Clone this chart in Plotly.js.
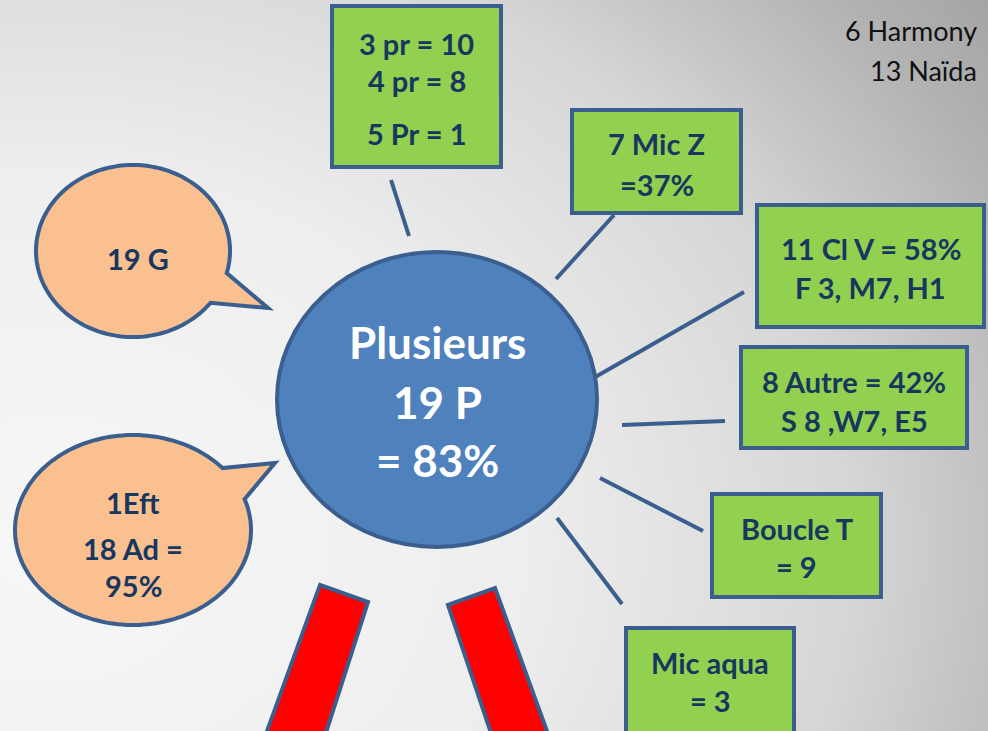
<!DOCTYPE html>
<html>
<head>
<meta charset="utf-8">
<script src="https://cdn.plot.ly/plotly-3.0.1.min.js"></script>
<style>
html,body{margin:0;padding:0;}
#chart{width:988px;height:731px;
 background: radial-gradient(ellipse 125% 135% at 5% 75%, #f7f7f7 0%, #eeeeee 38%, #d6d6d6 65%, #b2b2b2 85%, #9c9c9c 100%);}
</style>
</head>
<body>
<div id="chart"></div>
<script>
// ---- content ----
const centerLines = ["Plusieurs", "19 P", "= 83%"];
const boxLines = [
  ["3 pr = 10", "4 pr = 8", "5 Pr = 1"],
  ["7 Mic Z", "=37%"],
  ["11 Cl V = 58%", "F 3, M7, H1"],
  ["8 Autre = 42%", "S 8 ,W7, E5"],
  ["Boucle T", "= 9"],
  ["Mic aqua", "= 3"]
];
const bubbleLines = [
  ["19 G"],
  ["1Eft", "18 Ad =", "95%"]
];
const cornerLines = ["6 Harmony", "13 Naïda"];

// ---- layout geometry (pixels) ----
const NAVY = "#17375e", EDGE = "#3a5f8f";
const center = {x0: 277, x1: 597, y0: 252, y1: 547, ty: [342, 402, 460]};
const boxes = [
  {x0: 332, x1: 501, y0: 6,   y1: 167, ty: [43, 80, 133], conn: [391, 180, 409, 236]},
  {x0: 572, x1: 741, y0: 110, y1: 213, ty: [143, 184],    conn: [614, 215, 556, 279]},
  {x0: 757, x1: 984, y0: 205, y1: 327, ty: [248, 287],    conn: [744, 292, 590, 380]},
  {x0: 741, x1: 967, y0: 347, y1: 448, ty: [381, 420],    conn: [622, 425, 725, 421]},
  {x0: 712, x1: 881, y0: 494, y1: 597, ty: [528, 566],    conn: [600, 478, 703, 531]},
  {x0: 626, x1: 794, y0: 628, y1: 745, ty: [662, 700],    conn: [557, 518, 622, 604]}
];
const bubbles = [
  {cx: 133, cy: 251, rx: 97, ry: 86, a0: 37, a1: 374.9, tip: [268, 308], tx: 138, ty: [258]},
  {cx: 133, cy: 530, rx: 118, ry: 95, a0: -19, a1: 319.3, tip: [275, 463], tx: 133, ty: [502, 548, 585]}
];
const redBars = [
  [[320, 585], [368, 602], [322, 745], [262, 745]],
  [[448, 605], [495, 588], [552, 745], [495, 745]]
];

const shapes = [];
const ann = [];
const FONT = "Lato, 'Open Sans', sans-serif";

function txt(x, y, t, size, color, bold, xanchor) {
  ann.push({x: x, y: y, xref: "x", yref: "y", text: bold ? "<b>" + t + "</b>" : t,
    showarrow: false, xanchor: xanchor || "center", yanchor: "middle",
    font: {family: FONT, size: size, color: color}});
}

// connectors
boxes.forEach(b => {
  const c = b.conn;
  shapes.push({type: "line", x0: c[0], y0: c[1], x1: c[2], y1: c[3], line: {color: EDGE, width: 4}});
});

// red bars
redBars.forEach(p => {
  const path = "M" + p.map(q => q[0] + "," + q[1]).join(" L") + " Z";
  shapes.push({type: "path", path: path, fillcolor: "#ff0000", line: {color: EDGE, width: 4}});
});

// speech bubbles
bubbles.forEach((b, i) => {
  let pts = [];
  for (let a = b.a0; a <= b.a1 + 0.01; a += 2) {
    const r = a * Math.PI / 180;
    pts.push([b.cx + b.rx * Math.cos(r), b.cy + b.ry * Math.sin(r)]);
  }
  const r1 = b.a1 * Math.PI / 180;
  pts.push([b.cx + b.rx * Math.cos(r1), b.cy + b.ry * Math.sin(r1)]);
  pts.push(b.tip);
  const path = "M" + pts.map(q => q[0].toFixed(1) + "," + q[1].toFixed(1)).join(" L") + " Z";
  shapes.push({type: "path", path: path, fillcolor: "#fac090", line: {color: EDGE, width: 4}});
  bubbleLines[i].forEach((t, k) => txt(b.tx, b.ty[k], t, 29, NAVY, true));
});

// central ellipse
shapes.push({type: "circle", x0: center.x0, x1: center.x1, y0: center.y0, y1: center.y1,
  fillcolor: "#4f81bd", line: {color: EDGE, width: 4}});
centerLines.forEach((t, k) => txt((center.x0 + center.x1) / 2, center.ty[k], t, 44, "#ffffff", true));

// green boxes
boxes.forEach((b, i) => {
  shapes.push({type: "rect", x0: b.x0, x1: b.x1, y0: b.y0, y1: b.y1,
    fillcolor: "#92d050", line: {color: EDGE, width: 4}});
  boxLines[i].forEach((t, k) => txt((b.x0 + b.x1) / 2, b.ty[k], t, 29, NAVY, true));
});

// corner note
txt(979, 30, cornerLines[0], 27, "#111111", false, "right");
txt(979, 70, cornerLines[1], 27, "#111111", false, "right");

const layout = {
  width: 988, height: 731,
  margin: {l: 0, r: 0, t: 0, b: 0},
  paper_bgcolor: "rgba(0,0,0,0)", plot_bgcolor: "rgba(0,0,0,0)",
  xaxis: {range: [0, 988], visible: false, fixedrange: true},
  yaxis: {range: [731, 0], visible: false, fixedrange: true},
  showlegend: false,
  shapes: shapes,
  annotations: ann
};
Plotly.newPlot("chart", [{x: [], y: [], type: "scatter", mode: "markers"}], layout,
  {staticPlot: true, displayModeBar: false});
</script>
</body>
</html>
